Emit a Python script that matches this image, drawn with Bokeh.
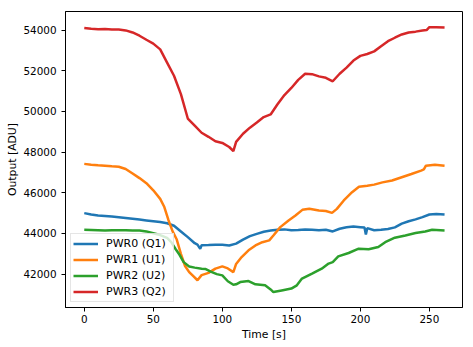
from bokeh.plotting import figure
from bokeh.models import Range1d, Legend, LegendItem, FixedTicker
from bokeh.embed import file_html
from bokeh.resources import INLINE

# ---- data ----
t_pwr0 = [0, 5, 10, 15, 20, 25, 30, 35, 40, 45, 50, 55, 60, 65, 70, 75, 80, 82, 84, 85,
          90, 95, 100, 105, 110, 115, 120, 125, 130, 135, 140, 145, 150, 155, 160, 165,
          170, 175, 180, 185, 190, 195, 200, 203, 204, 205, 210, 215, 220, 225, 230,
          235, 240, 245, 250, 255, 261]
pwr0 = [45000, 44930, 44880, 44860, 44830, 44800, 44760, 44720, 44680, 44640, 44600,
        44560, 44500, 44380, 44100, 43820, 43520, 43450, 43250, 43420, 43430, 43450,
        43440, 43410, 43500, 43700, 43870, 43980, 44080, 44140, 44180, 44200, 44160,
        44170, 44190, 44180, 44160, 44180, 44100, 44230, 44300, 44340, 44310, 44290,
        43950, 44260, 44160, 44180, 44220, 44300, 44480, 44600, 44690, 44800, 44930,
        44960, 44930]

t_pwr1 = [0, 5, 10, 15, 20, 25, 30, 35, 40, 45, 50, 55, 58, 61, 64, 67, 70, 73, 76, 79,
          82, 85, 90, 95, 100, 104, 108, 110, 114, 119, 124, 129, 134, 137, 142, 148,
          153, 158, 163, 170, 175, 179.5, 183, 188, 194, 199, 205, 210, 216, 223, 230,
          237, 244, 246, 247.5, 254, 261]
pwr1 = [47420, 47380, 47350, 47330, 47300, 47280, 47170, 46950, 46720, 46470, 46120,
        45700, 45300, 44650, 44100, 43700, 43000, 42400, 42100, 41900, 41700, 41950,
        42060, 42270, 42380, 42280, 42100, 42500, 42840, 43170, 43410, 43570, 43660,
        43900, 44310, 44640, 44880, 45160, 45210, 45130, 45100, 45010, 45210, 45620,
        46030, 46300, 46350, 46400, 46510, 46600, 46760, 46920, 47090, 47150, 47330,
        47380, 47330]

t_pwr2 = [0, 5, 10, 15, 20, 25, 30, 35, 40, 45, 50, 55, 60, 63, 66, 69, 72, 76, 80, 85,
          88, 92, 96, 100, 104, 108, 110, 113, 119, 124, 131, 135, 137, 143, 150, 154,
          157.7, 165, 172, 177, 180, 184, 191.5, 198.8, 206, 213, 218, 225, 232.6, 240,
          247, 252, 261]
pwr2 = [44180, 44170, 44160, 44150, 44160, 44160, 44160, 44150, 44140, 44100, 44010,
        43920, 43780, 43570, 43250, 42950, 42590, 42380, 42320, 42270, 42250, 42110,
        42000, 41940, 41650, 41480, 41500, 41610, 41660, 41500, 41450, 41250, 41120,
        41200, 41290, 41450, 41780, 42020, 42270, 42520, 42590, 42870, 43040, 43250,
        43220, 43330, 43570, 43790, 43900, 44020, 44100, 44180, 44150]

t_pwr3 = [0, 5, 10, 15, 20, 25, 30, 35, 40, 45, 50, 55, 60, 65, 70, 75, 80, 85, 90, 95,
          100, 105, 108, 110, 115, 120, 125, 130, 135, 140, 145, 150, 155, 160, 165, 170,
          175, 180, 185, 190, 195, 200, 205, 210, 215, 220, 225, 230, 235, 240, 245, 248,
          250, 255, 261]
pwr3 = [54100, 54060, 54040, 54050, 54030, 54020, 53980, 53880, 53720, 53520, 53330,
        53050, 52400, 51750, 50850, 49650, 49300, 48950, 48750, 48530, 48450, 48250,
        48050, 48500, 48900, 49200, 49450, 49720, 49850, 50350, 50800, 51150, 51550,
        51850, 51830, 51720, 51650, 51480, 51850, 52150, 52500, 52730, 52820, 52950,
        53200, 53450, 53620, 53780, 53880, 53920, 53980, 54000, 54140, 54140, 54120]

series_labels = ["PWR0 (Q1)", "PWR1 (U1)", "PWR2 (U2)", "PWR3 (Q2)"]
series_colors = ["#1f77b4", "#ff7f0e", "#2ca02c", "#d62728"]
x_ticks = [0, 50, 100, 150, 200, 250]
y_ticks = [42000, 44000, 46000, 48000, 50000, 52000, 54000]

FONT = "DejaVu Sans"

p = figure(width=472, height=346, output_backend="svg", toolbar_location=None,
           x_range=Range1d(-13.6, 274), y_range=Range1d(40360, 54910),
           min_border_left=65, min_border_right=10, min_border_top=11,
           min_border_bottom=39)
p.background_fill_color = "white"
p.border_fill_color = "white"
p.outline_line_color = "black"
p.outline_line_width = 1
p.xgrid.visible = False
p.ygrid.visible = False

renderers = []
for tx, vals, col in zip([t_pwr0, t_pwr1, t_pwr2, t_pwr3], [pwr0, pwr1, pwr2, pwr3],
                         series_colors):
    r = p.line(tx, vals, line_color=col, line_width=2.5)
    renderers.append(r)

for ax in (p.xaxis[0], p.yaxis[0]):
    ax.axis_line_color = "black"
    ax.major_tick_line_color = "black"
    ax.major_tick_out = 4
    ax.major_tick_in = 0
    ax.minor_tick_line_color = None
    ax.major_label_text_font = FONT
    ax.major_label_text_font_size = "10.4px"
    ax.major_label_text_color = "black"
    ax.axis_label_text_font = FONT
    ax.axis_label_text_font_size = "10.8px"
    ax.axis_label_text_font_style = "normal"
    ax.axis_label_text_color = "black"

p.xaxis[0].ticker = FixedTicker(ticks=x_ticks)
p.yaxis[0].ticker = FixedTicker(ticks=y_ticks)
p.xaxis[0].axis_label = "Time [s]"
p.yaxis[0].axis_label = "Output [ADU]"
p.xaxis[0].major_label_standoff = 3
p.xaxis[0].axis_label_standoff = 2
p.yaxis[0].major_label_standoff = 5
p.yaxis[0].axis_label_standoff = 1

legend = Legend(items=[LegendItem(label=lab, renderers=[r])
                       for lab, r in zip(series_labels, renderers)],
                location="bottom_left")
legend.margin = 5
legend.padding = 2
legend.spacing = 1
legend.glyph_width = 25
legend.glyph_height = 15
legend.label_height = 15
legend.label_width = 65
legend.label_standoff = 8
legend.label_text_font = FONT
legend.label_text_font_size = "11px"
legend.label_text_color = "black"
legend.border_line_color = "#cccccc"
legend.border_line_width = 1
legend.background_fill_color = "white"
legend.background_fill_alpha = 0.8
p.add_layout(legend)

open("out.html", "w").write(file_html(p, INLINE))
